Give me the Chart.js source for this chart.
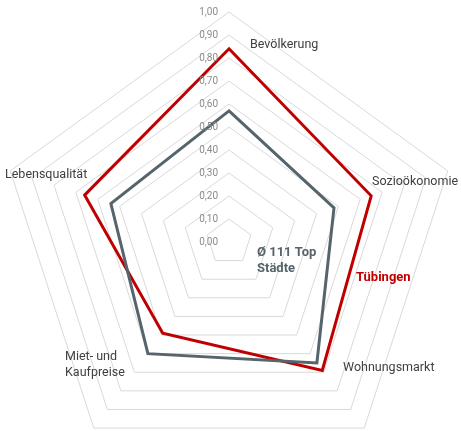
<!DOCTYPE html>
<html>
<head>
<meta charset="utf-8">
<script src="https://cdn.jsdelivr.net/npm/chart.js@4"></script>
<style>
  html, body { margin: 0; padding: 0; background: #fff; overflow: hidden; }
  #wrap { width: 462px; height: 484px; margin-left: -1px; }
</style>
</head>
<body>
<div id="wrap"><canvas id="radar" width="462" height="484"></canvas></div>
<script>
const categories = ['Bevölkerung', 'Sozioökonomie', 'Wohnungsmarkt', 'Miet- und Kaufpreise', 'Lebensqualität'];
const tuebingen = [0.84, 0.65, 0.69, 0.49, 0.66];
const topStaedte = [0.57, 0.48, 0.65, 0.60, 0.54];
const tickLabels = ['0,00', '0,10', '0,20', '0,30', '0,40', '0,50', '0,60', '0,70', '0,80', '0,90', '1,00'];

const RED = '#c00000';
const GREY = '#56646b';

// category and series labels sit inside the rings, offsets from the centre
const axisLabels = [
    { lines: ['Bevölkerung'], dx: 21, dy: -197 },
    { lines: ['Sozioökonomie'], dx: 143, dy: -60 },
    { lines: ['Wohnungsmarkt'], dx: 114, dy: 126 },
    { lines: ['Miet- und', 'Kaufpreise'], dx: -164, dy: 115 },
    { lines: ['Lebensqualität'], dx: -224, dy: -67 }
];

const labelPlugin = {
    id: 'labelPlugin',
    afterDatasetsDraw(chart) {
        const ctx = chart.ctx;
        const scale = chart.scales.r;
        const cx = scale.xCenter, cy = scale.yCenter;
        ctx.save();
        ctx.textBaseline = 'middle';

        // tick labels, left of the vertical axis
        ctx.font = '10px Roboto';
        ctx.fillStyle = '#8c8c8c';
        ctx.textAlign = 'right';
        scale.ticks.forEach(function (t) {
            const y = cy - scale.getDistanceFromCenterForValue(t.value);
            ctx.fillText(t.label, cx - 11, y);
        });

        ctx.textAlign = 'left';
        ctx.font = '12.5px Roboto';
        ctx.fillStyle = '#404040';
        axisLabels.forEach(function (l, i) {
            l.lines.forEach(function (line, k) {
                ctx.fillText(line, cx + l.dx, cy + l.dy + k * 16);
            });
        });

        ctx.font = 'bold 13px Roboto';
        ctx.fillStyle = GREY;
        ctx.fillText('Ø 111 Top', cx + 28, cy + 11);
        ctx.fillText('Städte', cx + 28, cy + 27);
        ctx.fillStyle = RED;
        ctx.fillText('Tübingen', cx + 127, cy + 36);
        ctx.restore();
    }
};

new Chart(document.getElementById('radar'), {
    type: 'radar',
    data: {
        labels: categories,
        datasets: [{
            label: 'Ø 111 Top Städte',
            data: topStaedte,
            borderColor: GREY,
            backgroundColor: 'transparent',
            borderWidth: 3,
            pointRadius: 0,
            fill: false
        }, {
            label: 'Tübingen',
            data: tuebingen,
            borderColor: RED,
            backgroundColor: 'transparent',
            borderWidth: 3,
            pointRadius: 0,
            fill: false
        }]
    },
    options: {
        responsive: false,
        animation: false,
        layout: { padding: { right: 2 } },
        elements: { line: { tension: 0, borderJoinStyle: 'miter' } },
        plugins: {
            legend: { display: false },
            tooltip: { enabled: false }
        },
        scales: {
            r: {
                min: 0,
                max: 1,
                ticks: {
                    stepSize: 0.1,
                    display: false,
                    callback: function (v, i) { return tickLabels[i]; }
                },
                grid: { color: '#d9d9d9', lineWidth: 1 },
                angleLines: { display: false },
                pointLabels: { display: false }
            }
        }
    },
    plugins: [labelPlugin]
});
</script>
</body>
</html>
